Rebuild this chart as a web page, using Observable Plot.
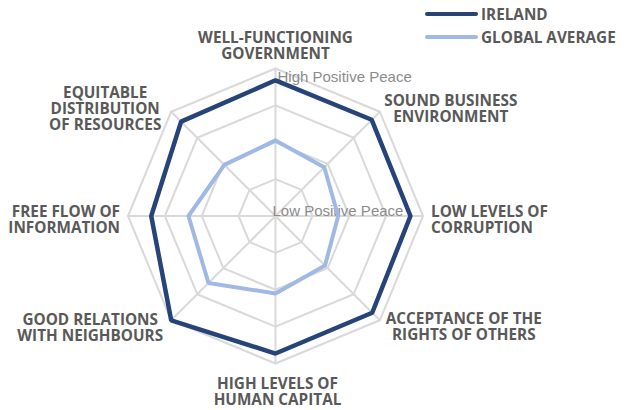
<!DOCTYPE html>
<html>
<head>
<meta charset="utf-8">
<script src="https://cdn.jsdelivr.net/npm/d3@7"></script>
<script src="https://cdn.jsdelivr.net/npm/@observablehq/plot@0.6"></script>
<style>
  html, body { margin: 0; padding: 0; background: #fff; }
  #wrap { position: relative; width: 630px; height: 410px; }
  #legend { position: absolute; left: 425px; top: 2px; font-family: "Open Sans", sans-serif; font-weight: 700; font-size: 15.3px; color: #595959; }
  .item { display: flex; align-items: center; height: 23px; }
  .swatch { width: 53px; height: 4px; border-radius: 2px; margin-right: 3px; }
</style>
</head>
<body>
<div id="wrap"><div id="legend"></div></div>
<script>
// ---- data ----
const categories = [
  "WELL-FUNCTIONING\nGOVERNMENT",
  "SOUND BUSINESS\nENVIRONMENT",
  "LOW LEVELS OF\nCORRUPTION",
  "ACCEPTANCE OF THE\nRIGHTS OF OTHERS",
  "HIGH LEVELS OF\nHUMAN CAPITAL",
  "GOOD RELATIONS\nWITH NEIGHBOURS",
  "FREE FLOW OF\nINFORMATION",
  "EQUITABLE\nDISTRIBUTION\nOF RESOURCES"
];
const ireland   = [3.68, 3.69, 3.66, 3.71, 3.73, 4.00, 3.37, 3.62];
const globalAvg = [2.05, 1.87, 1.70, 1.90, 2.10, 2.57, 2.36, 1.96];
const ringLevels = [1, 2, 3, 4];
const axisLabels = ["Low Positive Peace", "High Positive Peace"];
const seriesNames = ["IRELAND", "GLOBAL AVERAGE"];
const seriesColors = ["#264478", "#a0b9e4"];

// ---- geometry helpers ----
const maxR = 4;
const n = categories.length;
const ang = i => i * 2 * Math.PI / n;
const px = (i, r) => r * Math.sin(ang(i));
const py = (i, r) => r * Math.cos(ang(i));

const cx = 275, cy = 215.5, u = 147.5 / maxR, W = 630, H = 410;

const rings = ringLevels.flatMap(r => d3.range(n).map(i => ({ring: r, x: px(i, r), y: py(i, r)})));
const spokes = d3.range(n).flatMap(i => [{i, x: 0, y: 0}, {i, x: px(i, maxR), y: py(i, maxR)}]);
const series = (vals, name) => vals.map((v, i) => ({name, x: px(i, v), y: py(i, v)}));

// label layout (pixel offsets from outer vertex)
const labelLayout = [
  {dx: 0,   dy: -23, anchor: "middle"},
  {dx: 71,  dy: -3,  anchor: "middle"},
  {dx: 8,   dy: 3.5, anchor: "start"},
  {dx: 84,  dy: 7,   anchor: "middle"},
  {dx: 2,   dy: 28,  anchor: "middle"},
  {dx: -81, dy: 8,   anchor: "middle"},
  {dx: -8,  dy: 3.5, anchor: "end"},
  {dx: -66, dy: -3,  anchor: "middle"}
];

const labelMarks = categories.map((c, i) => Plot.text([c], {
  x: () => px(i, maxR), y: () => py(i, maxR), text: d => d,
  dx: labelLayout[i].dx, dy: labelLayout[i].dy, textAnchor: labelLayout[i].anchor,
  lineAnchor: "middle", lineHeight: 1.05,
  fontFamily: "Open Sans", fontWeight: 700, fontSize: 15.3, fill: "#595959"
}));

const chart = Plot.plot({
  width: W, height: H, margin: 0,
  x: {domain: [-cx / u, (W - cx) / u], range: [0, W], axis: null},
  y: {domain: [cy / u, (cy - H) / u], range: [0, H], axis: null},
  marks: [
    Plot.line(rings, {x: "x", y: "y", z: "ring", curve: "linear-closed", stroke: "#d9d9d9", strokeWidth: 2}),
    Plot.line(spokes, {x: "x", y: "y", z: "i", stroke: "#d9d9d9", strokeWidth: 2}),
    Plot.text([axisLabels[1]], {x: () => 0, y: () => maxR, text: d => d, dx: 2, dy: 9, textAnchor: "start",
      fontFamily: "Liberation Sans", fontSize: 15, fill: "#8c8c8c"}),
    Plot.text([axisLabels[0]], {x: () => 0, y: () => 0, text: d => d, dx: -3, dy: -4.5, textAnchor: "start",
      fontFamily: "Liberation Sans", fontSize: 15, fill: "#8c8c8c"}),
    Plot.line(series(globalAvg, seriesNames[1]), {x: "x", y: "y", curve: "linear-closed", stroke: seriesColors[1], strokeWidth: 4, strokeLinejoin: "miter"}),
    Plot.line(series(ireland, seriesNames[0]), {x: "x", y: "y", curve: "linear-closed", stroke: seriesColors[0], strokeWidth: 4.5, strokeLinejoin: "miter"}),
    ...labelMarks
  ]
});
document.getElementById("wrap").prepend(chart);

const legend = document.getElementById("legend");
seriesNames.forEach((s, k) => {
  const item = document.createElement("div");
  item.className = "item";
  item.innerHTML = `<span class="swatch" style="background:${seriesColors[k]}"></span><span>${s}</span>`;
  legend.appendChild(item);
});
</script>
</body>
</html>
